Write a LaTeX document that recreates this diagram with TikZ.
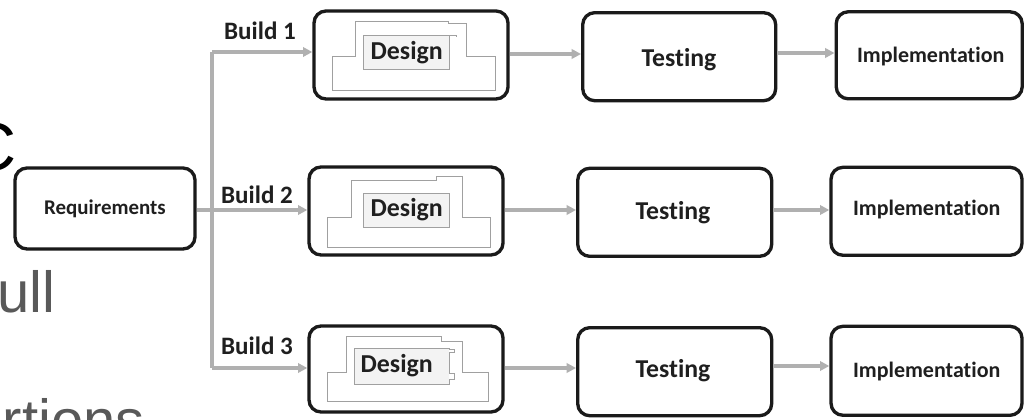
\documentclass[tikz,border=0pt]{standalone}
\usepackage{fontspec}
\setmainfont[Ligatures={NoCommon}]{Carlito}
\newfontfamily\slidefont{Liberation Sans}
\usetikzlibrary{arrows.meta}
\newdimen\pxu \pxu=0.75pt
\definecolor{boxline}{HTML}{1A1A1A}
\definecolor{arrgray}{HTML}{B0B0B0}
\definecolor{txt}{HTML}{1F1F1F}
\definecolor{patchline}{HTML}{A0A0A0}
\definecolor{innerfill}{HTML}{F3F3F3}
\definecolor{slidegray}{HTML}{595959}
\begin{document}
\begin{tikzpicture}[x=0.75pt,y=-0.75pt,
 box/.style={draw=boxline, line width=2.5pt, rounded corners=9pt, fill=white, inner sep=0pt},
 lbl/.style={font={\bfseries\fontsize{#1pt}{#1pt}\selectfont}, text=txt, inner sep=0pt},
 conn/.style={draw=arrgray, line width=2.4pt},
 arr/.style={conn, -{Triangle[length=7pt,width=7pt]}},
 patch/.style={draw=patchline, line width=0.5pt, fill=white},
 innerp/.style={draw=patchline, line width=0.5pt, fill=innerfill},
 slide/.style={font={\slidefont\fontsize{43.5pt}{43.5pt}\selectfont}, text=slidegray, inner sep=0pt}
]
\path[fill=white] (0,0) rectangle (1024,420);
\useasboundingbox (0,0) rectangle (1024,420);

% cropped slide text
\node[slide, text=black, font={\slidefont\fontsize{51pt}{51pt}\selectfont}, anchor=base east] (sc) at (17,171) {C};
\node[slide, anchor=base east] (su) at (56,312) {ull};
\node[slide, anchor=base east] (sr) at (145,440) {rtions};

% boxes
\node[box, minimum width=180\pxu, minimum height=81\pxu] (req) at (105,208.5) {};
\node[lbl=15.7] (reqt) at (105,208.5) {Requirements};

\node[box, minimum width=194\pxu, minimum height=88\pxu] (d1) at (411,55) {};
\node[box, minimum width=194\pxu, minimum height=88\pxu] (d2) at (406,211) {};
\node[box, minimum width=194\pxu, minimum height=86\pxu] (d3) at (406,369) {};

\node[box, minimum width=193\pxu, minimum height=88\pxu] (t1) at (679.2,56.7) {};
\node[box, minimum width=194\pxu, minimum height=88\pxu] (t2) at (674.7,212.3) {};
\node[box, minimum width=194\pxu, minimum height=88\pxu] (t3) at (674.7,371.7) {};
\node[lbl=19.3] (t1t) at (679,60) {Testing};
\node[lbl=19.3] (t2t) at (673,213) {Testing};
\node[lbl=19.3] (t3t) at (673,371) {Testing};

\node[box, minimum width=186\pxu, minimum height=87\pxu] (i1) at (929.2,55.3) {};
\node[box, minimum width=191\pxu, minimum height=88\pxu] (i2) at (926.5,211.3) {};
\node[box, minimum width=191\pxu, minimum height=89\pxu] (i3) at (926.5,370.8) {};
\node[lbl=16.5] (i1t) at (930.7,57) {Implementation};
\node[lbl=16.5] (i2t) at (926.7,210) {Implementation};
\node[lbl=16.5] (i3t) at (926.7,371.5) {Implementation};

% patches in the design boxes
\draw[patch] (355,21.7) -- (448.3,21.7) -- (448.3,23.3) -- (466,23.3) -- (466,56) -- (495,56) -- (495,90.7) -- (332.3,90.7) -- (332.3,56) -- (355,56) -- cycle;
\draw[innerp] (363.3,35) rectangle (449.3,69.3);
\draw[patchline, line width=0.5pt] (449.3,35) -- (456.7,35) -- (456.7,36.7);

\draw[patch] (351.7,180) -- (436.7,180) -- (436.7,176.7) -- (462.7,176.7) -- (462.7,217.3) -- (490,217.3) -- (490,247.3) -- (327.3,247.3) -- (327.3,217.3) -- (351.7,217.3) -- cycle;
\draw[innerp] (363.3,193.3) rectangle (449.3,227.3);

\draw[patch] (346,336.7) -- (441.7,336.7) -- (441.7,341.7) -- (462.7,341.7) -- (462.7,372.7) -- (488.3,372.7) -- (488.3,401.7) -- (327.3,401.7) -- (327.3,372.7) -- (346,372.7) -- cycle;
\draw[innerp] (354.3,348.3) rectangle (449.3,384);
\draw[patch] (449.3,349) -- (454.3,349) -- (454.3,352) -- (449.3,352);
\draw[patch] (449.3,373) -- (454.3,373) -- (454.3,379) -- (449.3,379);

\node[lbl=19.4] (d1t) at (406.7,53) {Design};
\node[lbl=19.4] (d2t) at (406.7,210) {Design};
\node[lbl=19.4] (d3t) at (396.7,366) {Design};

% build labels
\node[lbl=18.8] (b1) at (260,31) {Build 1};
\node[lbl=18.8] (b2) at (257,195) {Build 2};
\node[lbl=18.8] (b3) at (257,346) {Build 3};

% connectors
\coordinate (j1) at (212,52);
\coordinate (j2) at (212,210);
\coordinate (j3) at (212,368);
\draw[conn] (j1) -- (j3);
\draw[conn] (req.east |- j2) -- (j2);
\draw[arr] (j1) -- (j1 -| d1.west);
\draw[arr] (j2) -- (j2 -| d2.west);
\draw[arr] (j3) -- (j3 -| d3.west);

\draw[arr] (d1.east |- 0,54) -- (t1.west |- 0,54);
\draw[arr] (d2.east |- 0,210) -- (t2.west |- 0,210);
\draw[arr] (d3.east |- 0,368) -- (t3.west |- 0,368);

\draw[arr] (t1.east |- 0,53) -- (i1.west |- 0,53);
\draw[arr] (t2.east |- 0,210) -- (i2.west |- 0,210);
\draw[arr] (t3.east |- 0,366) -- (i3.west |- 0,366);
\end{tikzpicture}
\end{document}
